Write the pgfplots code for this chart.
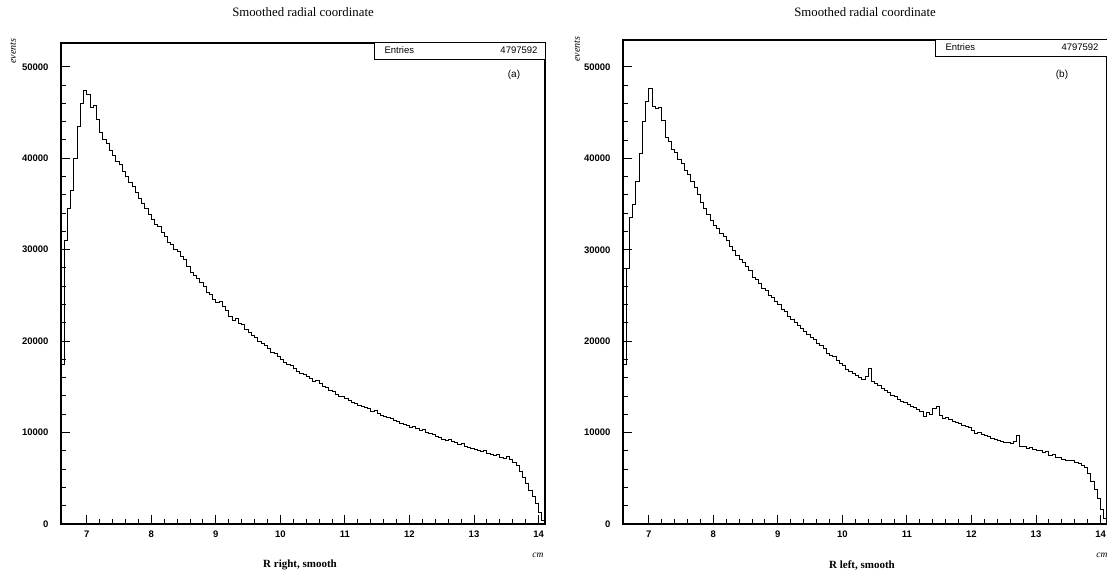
\documentclass[border=0pt]{standalone}
\usepackage{pgfplots}
\pgfplotsset{compat=1.18}
\usepackage{pgfplotstable}
\usepackage{fontspec}
\setmainfont{Liberation Serif}
\newfontfamily\helv{Liberation Sans}

\pgfplotstableread{
x y
6.60 17500
6.65 31000
6.70 34500
6.75 36500
6.80 40000
6.85 43500
6.90 46000
6.95 47400
7.00 47000
7.05 45500
7.10 45800
7.15 44200
7.20 42800
7.25 42000
7.30 41600
7.35 40800
7.40 40300
7.45 39700
7.50 39300
7.55 38600
7.60 38000
7.65 37400
7.70 36900
7.75 36300
7.80 35600
7.85 35100
7.90 34500
7.95 33900
8.00 33300
8.05 32800
8.10 32500
8.15 31900
8.20 31400
8.25 30800
8.30 30600
8.35 30000
8.40 29800
8.45 29300
8.50 28900
8.55 28200
8.60 27500
8.65 27200
8.70 26800
8.75 26400
8.80 26000
8.85 25300
8.90 25100
8.95 24600
9.00 24200
9.05 24300
9.10 23800
9.15 23300
9.20 22700
9.25 22300
9.30 22500
9.35 21900
9.40 21800
9.45 21300
9.50 21000
9.55 20600
9.60 20400
9.65 20000
9.70 19700
9.75 19500
9.80 19200
9.85 18800
9.90 18600
9.95 18300
10.00 18000
10.05 17700
10.10 17500
10.15 17300
10.20 17000
10.25 16700
10.30 16500
10.35 16300
10.40 16100
10.45 15900
10.50 15600
10.55 15700
10.60 15400
10.65 15000
10.70 14900
10.75 14600
10.80 14500
10.85 14200
10.90 14000
10.95 13900
11.00 13700
11.05 13500
11.10 13300
11.15 13200
11.20 13000
11.25 12800
11.30 12700
11.35 12600
11.40 12300
11.45 12400
11.50 12100
11.55 11900
11.60 11800
11.65 11700
11.70 11500
11.75 11300
11.80 11200
11.85 11000
11.90 10900
11.95 10800
12.00 10600
12.05 10700
12.10 10400
12.15 10200
12.20 10300
12.25 10000
12.30 9900
12.35 9800
12.40 9600
12.45 9500
12.50 9300
12.55 9100
12.60 9200
12.65 9000
12.70 8900
12.75 8700
12.80 8800
12.85 8500
12.90 8400
12.95 8300
13.00 8100
13.05 8000
13.10 7900
13.15 8000
13.20 7700
13.25 7600
13.30 7500
13.35 7600
13.40 7300
13.45 7200
13.50 7400
13.55 7100
13.60 6700
13.65 6400
13.70 5800
13.75 5100
13.80 4400
13.85 3700
13.90 3000
13.95 2200
14.00 1300
14.05 400
14.10 0
}\rright

\pgfplotstableread{
x y
6.60 17500
6.65 28000
6.70 33500
6.75 35000
6.80 37500
6.85 40500
6.90 44000
6.95 46200
7.00 47600
7.05 45700
7.10 45500
7.15 45600
7.20 44200
7.25 42300
7.30 41800
7.35 41000
7.40 40600
7.45 39900
7.50 39400
7.55 38700
7.60 38200
7.65 37500
7.70 36800
7.75 36000
7.80 35200
7.85 34500
7.90 33900
7.95 33200
8.00 32700
8.05 32300
8.10 31800
8.15 31500
8.20 31000
8.25 30400
8.30 29900
8.35 29400
8.40 28900
8.45 28600
8.50 28200
8.55 27700
8.60 27000
8.65 26700
8.70 26300
8.75 25800
8.80 25500
8.85 25000
8.90 24800
8.95 24300
9.00 24000
9.05 23500
9.10 23200
9.15 22700
9.20 22400
9.25 22000
9.30 21700
9.35 21400
9.40 21100
9.45 20700
9.50 20400
9.55 20200
9.60 19800
9.65 19500
9.70 19200
9.75 18700
9.80 18400
9.85 18300
9.90 17900
9.95 17600
10.00 17300
10.05 16900
10.10 16700
10.15 16500
10.20 16200
10.25 16000
10.30 15800
10.35 16100
10.40 17000
10.45 15600
10.50 15400
10.55 15200
10.60 14800
10.65 14600
10.70 14400
10.75 14100
10.80 13900
10.85 13600
10.90 13400
10.95 13300
11.00 13100
11.05 12900
11.10 12700
11.15 12500
11.20 12300
11.25 11800
11.30 12200
11.35 12000
11.40 12600
11.45 12900
11.50 11900
11.55 11600
11.60 11700
11.65 11400
11.70 11200
11.75 11100
11.80 11000
11.85 10800
11.90 10700
11.95 10600
12.00 10200
12.05 9950
12.10 10000
12.15 9800
12.20 9700
12.25 9600
12.30 9400
12.35 9300
12.40 9100
12.45 9000
12.50 8900
12.55 8900
12.60 8800
12.65 9000
12.70 9700
12.75 8500
12.80 8500
12.85 8300
12.90 8400
12.95 8200
13.00 8100
13.05 8000
13.10 7800
13.15 7900
13.20 7500
13.25 7600
13.30 7300
13.35 7300
13.40 7100
13.45 7000
13.50 7000
13.55 6900
13.60 6700
13.65 6600
13.70 6400
13.75 6200
13.80 5500
13.85 4700
13.90 3800
13.95 2800
14.00 1600
14.05 600
14.10 0
}\rleft

\pgfplotsset{
  histo/.style={
    scale only axis,
    anchor=south west,
    xmin=6.6, xmax=14.1,
    ymin=0,
    xtick={7,8,9,10,11,12,13,14},
    ytick={0,10000,20000,30000,40000,50000},
    minor x tick num=4,
    minor y tick num=4,
    tick align=inside,
    xtick pos=bottom, ytick pos=left,
    major tick length=9pt,
    minor tick length=4.5pt,
    scaled y ticks=false,
    /pgf/number format/assume math mode=true,
    /pgf/number format/1000 sep={},
    tick label style={font=\helv\bfseries\fontsize{9.5}{11}\selectfont},
    yticklabel style={xshift=-9pt},
    xticklabel style={yshift=-3pt},
    axis line style={line width=1.1pt},
    every tick/.style={line width=1pt, black},
    clip=false,
  },
}

\begin{document}
\begin{tikzpicture}[x=1pt,y=1pt]
\useasboundingbox (0,0) rectangle (1107,575);

% left panel
\begin{axis}[histo, at={(61pt,51pt)}, width=484pt, height=481pt, ymax=52600]
\addplot[const plot mark left, black, line width=0.9pt] table[x=x,y=y] {\rright};
\end{axis}

% right panel
\begin{axis}[histo, at={(623pt,51pt)}, width=484pt, height=484pt, ymax=52950]
\addplot[const plot mark left, black, line width=0.9pt] table[x=x,y=y] {\rleft};
\end{axis}

% titles
\node[font=\fontsize{12.8}{15}\selectfont] at (303,563) {Smoothed radial coordinate};
\node[font=\fontsize{12.8}{15}\selectfont] at (865,563) {Smoothed radial coordinate};

% stat boxes
\draw[line width=0.9pt, fill=white] (374,516) rectangle (545,533);
\node[font=\helv\fontsize{9.5}{11}\selectfont, anchor=west] at (381,524.5) {Entries};
\node[font=\helv\fontsize{9.5}{11}\selectfont, anchor=east] at (541,524.5) {4797592};
\draw[line width=0.9pt, fill=white] (935,519) rectangle (1110,536);
\node[font=\helv\fontsize{9.5}{11}\selectfont, anchor=west] at (942,527.5) {Entries};
\node[font=\helv\fontsize{9.5}{11}\selectfont, anchor=east] at (1102,527.5) {4797592};

% panel letters
\node[font=\helv\fontsize{10}{12}\selectfont] at (514,500) {(a)};
\node[font=\helv\fontsize{10}{12}\selectfont] at (1062,500) {(b)};

% y labels
\node[font=\itshape\fontsize{10}{12}\selectfont, rotate=90] at (13,524) {events};
\node[font=\itshape\fontsize{10}{12}\selectfont, rotate=90] at (577,526) {events};

% x labels
\node[font=\bfseries\fontsize{11}{13}\selectfont] at (300,10) {R right, smooth};
\node[font=\bfseries\fontsize{11}{13}\selectfont] at (862,10) {R left, smooth};
\node[font=\itshape\fontsize{9.5}{11}\selectfont] at (538,20) {cm};
\node[font=\itshape\fontsize{9.5}{11}\selectfont] at (1102,20) {cm};
\end{tikzpicture}
\end{document}
